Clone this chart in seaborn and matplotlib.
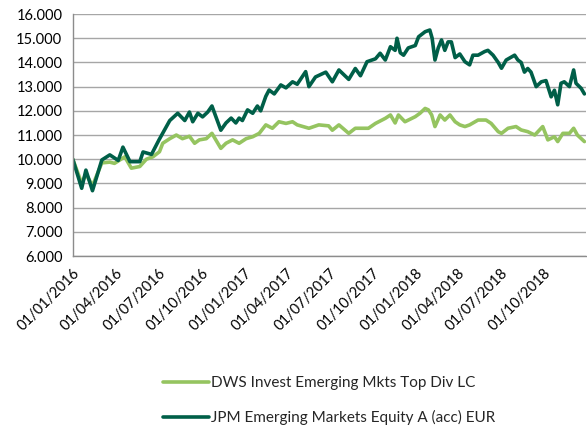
import pandas as pd
import numpy as np
import matplotlib
matplotlib.use("Agg")
import matplotlib.pyplot as plt
import matplotlib.dates as mdates
from matplotlib.ticker import FuncFormatter
import seaborn as sns

# Datos (valor de 10.000 invertidos)
dws_name = "DWS Invest Emerging Mkts Top Div LC"
jpm_name = "JPM Emerging Markets Equity A (acc) EUR"

jpm_dates = [
    "2016-01-01", "2016-01-20", "2016-01-29", "2016-02-12", "2016-03-03", "2016-03-20",
    "2016-04-07", "2016-04-17", "2016-05-02", "2016-05-23", "2016-05-30", "2016-06-17",
    "2016-07-03", "2016-07-26", "2016-08-12", "2016-08-27", "2016-09-06", "2016-09-13",
    "2016-09-24", "2016-10-04", "2016-10-15", "2016-10-24", "2016-11-12", "2016-11-23",
    "2016-12-04", "2016-12-14", "2016-12-21", "2016-12-28", "2017-01-08", "2017-01-19",
    "2017-01-29", "2017-02-05", "2017-02-16", "2017-02-23", "2017-03-06", "2017-03-20",
    "2017-03-31", "2017-04-14", "2017-04-24", "2017-05-12", "2017-05-19", "2017-06-02",
    "2017-06-24", "2017-07-08", "2017-07-22", "2017-08-12", "2017-08-26", "2017-09-06",
    "2017-09-20", "2017-10-08", "2017-10-18", "2017-10-29", "2017-11-09", "2017-11-19",
    "2017-11-23", "2017-11-30", "2017-12-07", "2017-12-17", "2018-01-01", "2018-01-08",
    "2018-01-22", "2018-02-01", "2018-02-06", "2018-02-12", "2018-02-19", "2018-02-26",
    "2018-03-05", "2018-03-12", "2018-03-19", "2018-03-27", "2018-04-06", "2018-04-17",
    "2018-04-27", "2018-05-04", "2018-05-15", "2018-05-29", "2018-06-05", "2018-06-16",
    "2018-06-27", "2018-07-04", "2018-07-14", "2018-08-01", "2018-08-08", "2018-08-15",
    "2018-08-22", "2018-08-29", "2018-09-05", "2018-09-16", "2018-09-27", "2018-10-07",
    "2018-10-18", "2018-10-25", "2018-11-01", "2018-11-08", "2018-11-15", "2018-11-26",
    "2018-12-05", "2018-12-10", "2018-12-21", "2018-12-28",
]
jpm_values = [
    10000, 8800, 9550, 8700, 9970, 10180,
    9950, 10500, 9900, 9900, 10300, 10200,
    10800, 11600, 11900, 11600, 11950, 11550,
    11900, 11750, 11950, 12200, 11200, 11500,
    11700, 11500, 11700, 11600, 12040, 11900,
    12200, 12000, 12600, 12860, 12700, 13070,
    12950, 13200, 13100, 13620, 13000, 13400,
    13600, 13200, 13690, 13300, 13750, 13450,
    14030, 14150, 14380, 14100, 14650, 14500,
    15000, 14400, 14300, 14600, 14700, 15060,
    15270, 15340, 15000, 14100, 14600, 14930,
    14500, 14850, 14850, 14200, 14350, 14030,
    13900, 14300, 14300, 14450, 14500, 14300,
    14000, 13760, 14100, 14300, 14100, 14000,
    13600, 13750, 13600, 13000, 13200, 13250,
    12580, 12850, 12250, 13140, 13200, 13000,
    13690, 13140, 12930, 12700,
]

dws_dates = [
    "2016-01-01", "2016-01-20", "2016-01-29", "2016-02-12", "2016-03-03", "2016-03-20",
    "2016-03-30", "2016-04-21", "2016-05-05", "2016-05-23", "2016-06-06", "2016-06-20",
    "2016-07-04", "2016-07-11", "2016-07-26", "2016-08-09", "2016-08-22", "2016-09-06",
    "2016-09-17", "2016-09-27", "2016-10-12", "2016-10-24", "2016-11-12", "2016-11-23",
    "2016-12-07", "2016-12-21", "2017-01-05", "2017-01-19", "2017-02-02", "2017-02-16",
    "2017-03-02", "2017-03-16", "2017-03-31", "2017-04-14", "2017-04-24", "2017-05-19",
    "2017-06-09", "2017-06-30", "2017-07-08", "2017-07-22", "2017-08-12", "2017-08-26",
    "2017-09-23", "2017-10-08", "2017-10-29", "2017-11-09", "2017-11-19", "2017-11-26",
    "2017-12-10", "2018-01-01", "2018-01-11", "2018-01-22", "2018-01-29", "2018-02-05",
    "2018-02-12", "2018-02-23", "2018-03-05", "2018-03-16", "2018-03-27", "2018-04-06",
    "2018-04-17", "2018-04-27", "2018-05-15", "2018-06-01", "2018-06-12", "2018-06-27",
    "2018-07-04", "2018-07-18", "2018-08-04", "2018-08-15", "2018-08-29", "2018-09-13",
    "2018-09-30", "2018-10-11", "2018-10-25", "2018-11-01", "2018-11-12", "2018-11-26",
    "2018-12-05", "2018-12-13", "2018-12-28",
]
dws_values = [
    10000, 9000, 9400, 8900, 9850, 9880,
    9830, 10100, 9630, 9700, 10000, 10100,
    10310, 10660, 10850, 11000, 10850, 10950,
    10660, 10800, 10850, 11070, 10450, 10660,
    10800, 10660, 10850, 10930, 11070, 11420,
    11280, 11550, 11480, 11550, 11420, 11280,
    11420, 11380, 11200, 11420, 11070, 11280,
    11280, 11480, 11690, 11830, 11500, 11830,
    11550, 11760, 11900, 12100, 12040, 11830,
    11350, 11830, 11620, 11830, 11550, 11420,
    11350, 11420, 11620, 11620, 11480, 11140,
    11070, 11280, 11350, 11210, 11140, 11000,
    11350, 10800, 10930, 10730, 11070, 11070,
    11280, 11000, 10730,
]

df = pd.concat([
    pd.DataFrame({"Fecha": pd.to_datetime(dws_dates), "Valor": dws_values, "Fondo": dws_name}),
    pd.DataFrame({"Fecha": pd.to_datetime(jpm_dates), "Valor": jpm_values, "Fondo": jpm_name}),
])

sns.set_style("white")
plt.rcParams["font.family"] = ["Lato", "DejaVu Sans"]

fig = plt.figure(figsize=(5.87, 4.26), dpi=100)
ax = fig.add_axes([0.124, 0.399, 0.874, 0.568])

sns.lineplot(data=df, x="Fecha", y="Valor", hue="Fondo",
             palette={dws_name: "#95c460", jpm_name: "#005f48"},
             linewidth=2.6, ax=ax)

ax.set_ylim(6000, 16000)
ax.set_yticks(np.arange(6000, 16001, 1000))
ax.yaxis.set_major_formatter(FuncFormatter(lambda v, p: f"{int(v):,}".replace(",", ".")))
ax.set_xlim(pd.Timestamp("2016-01-01"), pd.Timestamp("2018-12-31"))
ax.set_xticks(pd.date_range("2016-01-01", "2018-10-01", freq="QS"))
ax.xaxis.set_major_formatter(mdates.DateFormatter("%d/%m/%Y"))
plt.setp(ax.get_xticklabels(), rotation=45, ha="right", rotation_mode="anchor")

ax.grid(axis="y", color="#a6a6a6", linewidth=1.0)
ax.set_axisbelow(True)
for s in ["top", "right"]:
    ax.spines[s].set_visible(False)
for s in ["left", "bottom"]:
    ax.spines[s].set_color("#8c8c8c")
    ax.spines[s].set_linewidth(1.0)
ax.tick_params(axis="both", length=4, color="#8c8c8c", labelsize=10.5, labelcolor="#000000")
ax.tick_params(axis="x", pad=3)
ax.set_xlabel("")
ax.set_ylabel("")

ax.legend(loc="upper center", bbox_to_anchor=(0.5, -0.44), frameon=False,
          ncol=1, fontsize=11, handlelength=3.0, handletextpad=0.15,
          labelspacing=1.3)

fig.savefig("out.png", dpi=100)
